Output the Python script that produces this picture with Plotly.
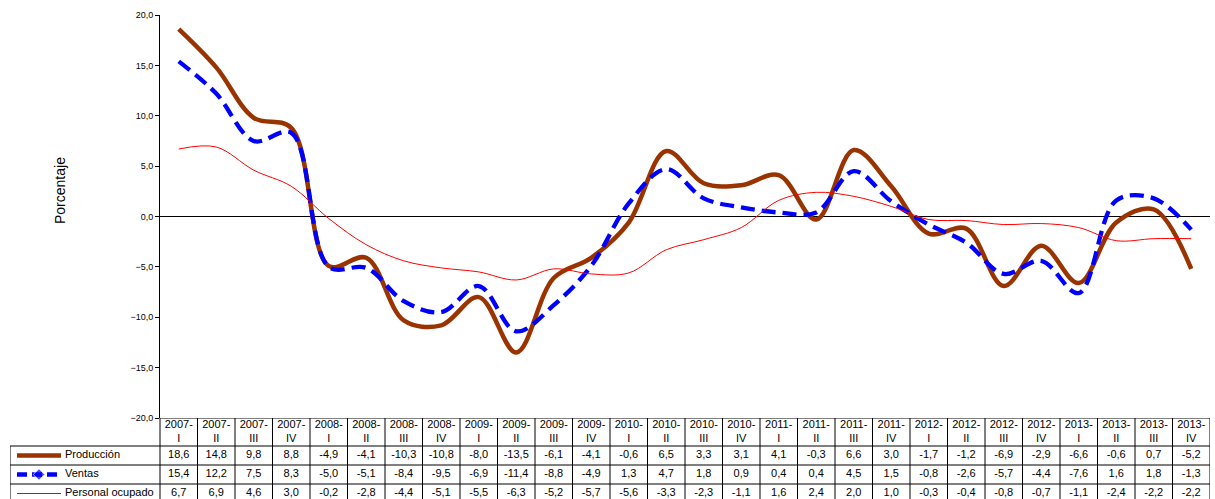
import plotly.graph_objects as go

periods = ["2007-<br>I", "2007-<br>II", "2007-<br>III", "2007-<br>IV",
           "2008-<br>I", "2008-<br>II", "2008-<br>III", "2008-<br>IV",
           "2009-<br>I", "2009-<br>II", "2009-<br>III", "2009-<br>IV",
           "2010-<br>I", "2010-<br>II", "2010-<br>III", "2010-<br>IV",
           "2011-<br>I", "2011-<br>II", "2011-<br>III", "2011-<br>IV",
           "2012-<br>I", "2012-<br>II", "2012-<br>III", "2012-<br>IV",
           "2013-<br>I", "2013-<br>II", "2013-<br>III", "2013-<br>IV"]

produccion = [18.6, 14.8, 9.8, 8.8, -4.9, -4.1, -10.3, -10.8, -8.0, -13.5, -6.1, -4.1,
              -0.6, 6.5, 3.3, 3.1, 4.1, -0.3, 6.6, 3.0, -1.7, -1.2, -6.9, -2.9,
              -6.6, -0.6, 0.7, -5.2]
ventas = [15.4, 12.2, 7.5, 8.3, -5.0, -5.1, -8.4, -9.5, -6.9, -11.4, -8.8, -4.9,
          1.3, 4.7, 1.8, 0.9, 0.4, 0.4, 4.5, 1.5, -0.8, -2.6, -5.7, -4.4,
          -7.6, 1.6, 1.8, -1.3]
personal = [6.7, 6.9, 4.6, 3.0, -0.2, -2.8, -4.4, -5.1, -5.5, -6.3, -5.2, -5.7,
            -5.6, -3.3, -2.3, -1.1, 1.6, 2.4, 2.0, 1.0, -0.3, -0.4, -0.8, -0.7,
            -1.1, -2.4, -2.2, -2.2]

series_names = ["Producción", "Ventas", "Personal ocupado"]
y_ticks = [-20, -15, -10, -5, 0, 5, 10, 15, 20]

W, H = 1215, 499
FONT = "Liberation Sans, Arial, sans-serif"
BROWN = "#993300"
BLUE = "#0000FF"
RED = "#FF0000"

# layout geometry (pixels)
plot_left, plot_right = 160, 1210
plot_top, plot_bottom = 15, 418
table_left = 10
hdr_h, row_h = 28, 19

n = len(periods)
colw = (plot_right - plot_left) / n
idx = list(range(n))

fig = go.Figure()

line_styles = [
    dict(color=BROWN, width=4.5),
    dict(color=BLUE, width=4.3, dash="14px,7px"),
    dict(color=RED, width=1),
]
all_series = [produccion, ventas, personal]
for name, vals, ls in zip(series_names, all_series, line_styles):
    fig.add_trace(go.Scatter(x=idx, y=vals, mode="lines", name=name,
                             line=dict(shape="spline", smoothing=1.0, **ls),
                             showlegend=False, hoverinfo="x+y", xaxis="x", yaxis="y"))

# ---- data table (x2 / y2), y2 in pixel-like units from bottom of canvas
tbl_h = H - plot_bottom  # 81
x2min = -0.5 - (plot_left - table_left) / colw


def py(pix):  # canvas pixel -> y2 units
    return H - pix


# header text
fig.add_trace(go.Scatter(x=idx, y=[py(plot_bottom + hdr_h / 2)] * n, mode="text",
                         text=periods, textfont=dict(family=FONT, size=11, color="black"),
                         xaxis="x2", yaxis="y2", showlegend=False, hoverinfo="skip"))
row_tops = [plot_bottom + hdr_h + i * row_h for i in range(3)]
for r, vals in enumerate(all_series):
    txt = [f"{v:.1f}".replace(".", ",") for v in vals]
    fig.add_trace(go.Scatter(x=idx, y=[py(row_tops[r] + row_h / 2)] * n, mode="text",
                             text=txt, textfont=dict(family=FONT, size=11, color="black"),
                             xaxis="x2", yaxis="y2", showlegend=False, hoverinfo="skip"))

shapes = []
lc = dict(color="black", width=1)
# vertical lines
for i in range(n + 1):
    xb = i - 0.5
    shapes.append(dict(type="line", xref="x2", yref="y2", x0=xb, x1=xb,
                       y0=py(plot_bottom), y1=py(H + 5), line=lc))
shapes.append(dict(type="line", xref="x2", yref="y2", x0=x2min, x1=x2min,
                   y0=py(row_tops[0]), y1=py(H + 5), line=lc))
# horizontal lines
shapes.append(dict(type="line", xref="x2", yref="y2", x0=-0.5, x1=n - 0.5,
                   y0=py(plot_bottom), y1=py(plot_bottom), line=lc))
for t in row_tops:
    shapes.append(dict(type="line", xref="x2", yref="y2", x0=x2min, x1=n - 0.5,
                       y0=py(t), y1=py(t), line=lc))


def px2x(pix):
    return -0.5 + (pix - plot_left) / colw


# legend keys in the table
key_x0, key_x1, key_text = 17, 61, 65
for r, (name, ls) in enumerate(zip(series_names, line_styles)):
    yc = py(row_tops[r] + row_h / 2)
    kd = dict(ls)
    if "dash" in kd:
        kd["dash"] = "10px,5px"
    mk = dict(size=[0, 9, 0], symbol="diamond", color=BLUE) if r == 1 else None
    fig.add_trace(go.Scatter(x=[px2x(key_x0), px2x((key_x0 + key_x1) / 2), px2x(key_x1)],
                             y=[yc, yc, yc], mode="lines+markers" if r == 1 else "lines",
                             line=kd, marker=mk, xaxis="x2", yaxis="y2",
                             showlegend=False, hoverinfo="skip"))
    fig.add_trace(go.Scatter(x=[px2x(key_text)], y=[yc], mode="text", text=[name],
                             textposition="middle right",
                             textfont=dict(family=FONT, size=11, color="black"),
                             xaxis="x2", yaxis="y2", showlegend=False, hoverinfo="skip"))

fig.update_layout(
    template="none",
    width=W, height=H, autosize=False, margin=dict(l=0, r=0, t=0, b=0, pad=0),
    paper_bgcolor="white", plot_bgcolor="white",
    font=dict(family=FONT, size=9, color="black"),
    separators=",.",
    shapes=shapes,
    xaxis=dict(domain=[plot_left / W, plot_right / W], range=[-0.5, n - 0.5],
               showticklabels=False, showgrid=False, zeroline=False, ticks="",
               showline=False, fixedrange=True, automargin=False),
    yaxis=dict(domain=[(H - plot_bottom) / H, (H - plot_top) / H], range=[-20, 20],
               tickvals=y_ticks, tickformat=".1f", ticks="outside", ticklen=4,
               tickcolor="black", showline=True, linecolor="black", linewidth=1,
               showgrid=False, zeroline=True, zerolinecolor="black", zerolinewidth=1,
               tickfont=dict(family=FONT, size=9, color="black"), fixedrange=True,
               automargin=False),
    xaxis2=dict(domain=[table_left / W, plot_right / W], range=[x2min, n - 0.5],
                visible=False, anchor="y2", fixedrange=True, automargin=False),
    yaxis2=dict(domain=[0, (H - plot_bottom) / H], range=[0, tbl_h],
                visible=False, anchor="x2", fixedrange=True, automargin=False),
    annotations=[dict(text="Porcentaje", xref="paper", yref="paper",
                      x=60 / W, y=(H - 191) / H, xanchor="center", yanchor="middle",
                      textangle=-90, showarrow=False,
                      font=dict(family=FONT, size=14, color="black"))],
)

fig.write_html("out.html",
               config={"displayModeBar": False},
               post_script="document.body.style.margin='0px';"
                           "document.body.style.overflow='hidden';")
